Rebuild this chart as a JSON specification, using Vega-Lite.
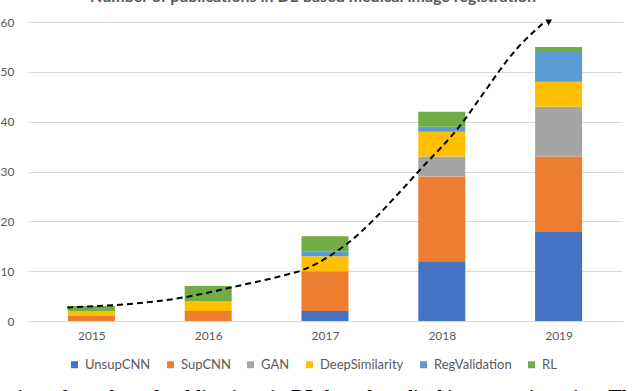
{
  "$schema": "https://vega.github.io/schema/vega-lite/v6.json",
  "width": 594,
  "height": 299,
  "autosize": {"type": "none"},
  "padding": {"left": 28, "top": 22, "right": 18, "bottom": 70},
  "background": "white",
  "title": {
    "text": "Number of publications in DL-based medical image registration",
    "font": "Lato",
    "fontSize": 16,
    "fontWeight": "bold",
    "color": "#595959",
    "anchor": "middle",
    "baseline": "alphabetic",
    "offset": -2,
    "dx": -12
  },
  "config": {"view": {"stroke": null}},
  "datasets": {
    "bars": [
      {"year": 2015, "method": "SupCNN", "k": 2, "count": 1},
      {"year": 2015, "method": "DeepSimilarity", "k": 4, "count": 1},
      {"year": 2015, "method": "RL", "k": 6, "count": 1},
      {"year": 2016, "method": "SupCNN", "k": 2, "count": 2},
      {"year": 2016, "method": "DeepSimilarity", "k": 4, "count": 2},
      {"year": 2016, "method": "RL", "k": 6, "count": 3},
      {"year": 2017, "method": "UnsupCNN", "k": 1, "count": 2},
      {"year": 2017, "method": "SupCNN", "k": 2, "count": 8},
      {"year": 2017, "method": "DeepSimilarity", "k": 4, "count": 3},
      {"year": 2017, "method": "RegValidation", "k": 5, "count": 1},
      {"year": 2017, "method": "RL", "k": 6, "count": 3},
      {"year": 2018, "method": "UnsupCNN", "k": 1, "count": 12},
      {"year": 2018, "method": "SupCNN", "k": 2, "count": 17},
      {"year": 2018, "method": "GAN", "k": 3, "count": 4},
      {"year": 2018, "method": "DeepSimilarity", "k": 4, "count": 5},
      {"year": 2018, "method": "RegValidation", "k": 5, "count": 1},
      {"year": 2018, "method": "RL", "k": 6, "count": 3},
      {"year": 2019, "method": "UnsupCNN", "k": 1, "count": 18},
      {"year": 2019, "method": "SupCNN", "k": 2, "count": 15},
      {"year": 2019, "method": "GAN", "k": 3, "count": 10},
      {"year": 2019, "method": "DeepSimilarity", "k": 4, "count": 5},
      {"year": 2019, "method": "RegValidation", "k": 5, "count": 6},
      {"year": 2019, "method": "RL", "k": 6, "count": 1}
    ],
    "trend": [
      {"t": 2014.792, "v": 2.7},
      {"t": 2015.807, "v": 4.8},
      {"t": 2016.285, "v": 7.2},
      {"t": 2016.621, "v": 9.0},
      {"t": 2016.804, "v": 10.2},
      {"t": 2017.194, "v": 15.6},
      {"t": 2017.657, "v": 26.3},
      {"t": 2017.8, "v": 30.0},
      {"t": 2018.193, "v": 40.3},
      {"t": 2018.305, "v": 44.0},
      {"t": 2018.656, "v": 55.0},
      {"t": 2018.866, "v": 59.7}
    ],
    "arrow": [
      {"t": 2018.915, "v": 59.9}
    ]
  },
  "layer": [
    {
      "data": {"name": "bars"},
      "mark": {"type": "bar", "size": 47},
      "encoding": {
        "x": {
          "field": "year",
          "type": "quantitative",
          "scale": {"domain": [2014.5, 2019.5], "nice": false, "zero": false},
          "axis": {
            "values": [2015, 2016, 2017, 2018, 2019],
            "format": "d",
            "ticks": false,
            "grid": false,
            "labelFlush": false,
            "domainColor": "#D9D9D9",
            "domainWidth": 1,
            "labelFont": "Lato",
            "labelFontSize": 12,
            "labelColor": "#595959",
            "labelPadding": 9,
            "title": "Overview of number of publications in DL-based medical image registration. The dotted line indicates increasing",
            "titleFont": "Liberation Serif",
            "titleFontSize": 19.5,
            "titleFontWeight": "bold",
            "titleColor": "#000000",
            "titleAnchor": "start",
            "titleAlign": "left",
            "titleBaseline": "alphabetic",
            "titleX": -63,
            "titleY": 81
          }
        },
        "y": {
          "field": "count",
          "type": "quantitative",
          "stack": "zero",
          "scale": {"domain": [0, 60], "nice": false},
          "axis": {
            "values": [0, 10, 20, 30, 40, 50, 60],
            "grid": true,
            "gridColor": "#D9D9D9",
            "gridWidth": 1,
            "domain": false,
            "ticks": false,
            "labelPadding": 14,
            "labelFont": "Lato",
            "labelFontSize": 12,
            "labelColor": "#595959",
            "title": null
          }
        },
        "color": {
          "field": "method",
          "type": "nominal",
          "sort": ["UnsupCNN", "SupCNN", "GAN", "DeepSimilarity", "RegValidation", "RL"],
          "scale": {
            "domain": ["UnsupCNN", "SupCNN", "GAN", "DeepSimilarity", "RegValidation", "RL"],
            "range": ["#4472C4", "#ED7D31", "#A5A5A5", "#FFC000", "#5B9BD5", "#70AD47"]
          },
          "legend": {
            "orient": "none",
            "legendX": 40,
            "legendY": 336,
            "direction": "horizontal",
            "title": null,
            "padding": 0,
            "columnPadding": 13,
            "symbolType": "square",
            "symbolSize": 49,
            "symbolStrokeWidth": 0,
            "labelFont": "Lato",
            "labelFontSize": 13,
            "labelColor": "#595959",
            "labelOffset": 4
          }
        },
        "order": {"field": "k", "type": "quantitative", "sort": "ascending"}
      }
    },
    {
      "data": {"name": "trend"},
      "mark": {"type": "line", "color": "#000000", "strokeWidth": 2, "strokeDash": [6, 4], "interpolate": "monotone"},
      "encoding": {
        "x": {"field": "t", "type": "quantitative"},
        "y": {"field": "v", "type": "quantitative"}
      }
    },
    {
      "data": {"name": "arrow"},
      "mark": {"type": "point", "shape": "triangle-down", "filled": true, "color": "#000000", "size": 45, "opacity": 1},
      "encoding": {
        "x": {"field": "t", "type": "quantitative"},
        "y": {"field": "v", "type": "quantitative"}
      }
    }
  ]
}
